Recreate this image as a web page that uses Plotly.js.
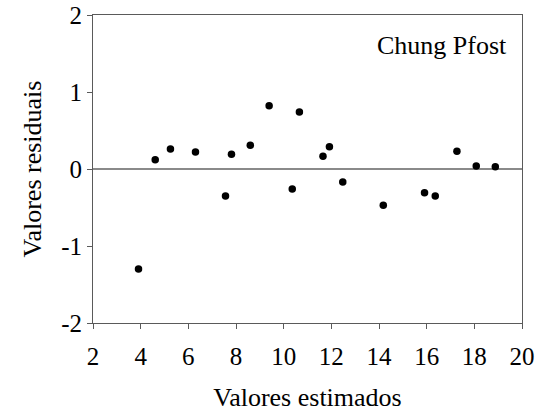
<!DOCTYPE html>
<html>
<head>
<meta charset="utf-8">
<script src="https://cdn.plot.ly/plotly-3.0.1.min.js"></script>
<style>
  html, body { margin: 0; padding: 0; background: #fff; }
  #chart { width: 551px; height: 416px; }
</style>
</head>
<body>
<div id="chart"></div>
<script>
// Residuals of the Chung Pfost model against the estimated values
const estimados = [3.91, 4.61, 5.25, 6.30, 7.56, 7.81, 8.60, 9.39, 10.36, 10.66,
                   11.65, 11.92, 12.48, 14.18, 15.91, 16.36, 17.27, 18.08, 18.88];
const residuais = [-1.30, 0.12, 0.26, 0.22, -0.35, 0.19, 0.31, 0.82, -0.26, 0.74,
                   0.165, 0.29, -0.17, -0.47, -0.31, -0.35, 0.23, 0.04, 0.03];
const xTicks = [2, 4, 6, 8, 10, 12, 14, 16, 18, 20];
const yTicks = [-2, -1, 0, 1, 2];
const modelName = 'Chung Pfost';

function textFont(size) {
  return { family: 'Tinos', size: size, color: '#000' };
}

const trace = {
  x: estimados,
  y: residuais,
  type: 'scatter',
  mode: 'markers',
  marker: { color: '#000', size: 7.5 }
};

const layout = {
  width: 551,
  height: 416,
  margin: { l: 93, r: 29, t: 15, b: 93 },
  paper_bgcolor: '#fff',
  plot_bgcolor: '#fff',
  showlegend: false,
  font: textFont(25),
  xaxis: {
    range: [2, 20],
    tickvals: xTicks,
    ticktext: xTicks.map(String),
    showgrid: false,
    zeroline: false,
    showline: true,
    linecolor: '#5a5a5a',
    linewidth: 1,
    mirror: true,
    ticks: 'outside',
    ticklen: 5,
    tickcolor: '#5a5a5a',
    ticklabelstandoff: 6,
    tickfont: textFont(25),
    title: { text: 'Valores estimados', font: textFont(26), standoff: 18 }
  },
  yaxis: {
    range: [-2, 2],
    tickvals: yTicks,
    ticktext: yTicks.map(String),
    showgrid: false,
    zeroline: true,
    zerolinecolor: '#8a8a8a',
    zerolinewidth: 2,
    showline: true,
    linecolor: '#5a5a5a',
    linewidth: 1,
    mirror: true,
    ticks: 'outside',
    ticklen: 5,
    tickcolor: '#5a5a5a',
    tickfont: textFont(25),
    title: { text: 'Valores residuais', font: textFont(26), standoff: 12 }
  },
  annotations: [{
    text: modelName,
    xref: 'x', yref: 'y',
    x: 19.45, y: 1.61,
    xanchor: 'right', yanchor: 'middle',
    showarrow: false,
    font: textFont(26)
  }]
};

Plotly.newPlot('chart', [trace], layout, { displayModeBar: false, staticPlot: true });
</script>
</body>
</html>
